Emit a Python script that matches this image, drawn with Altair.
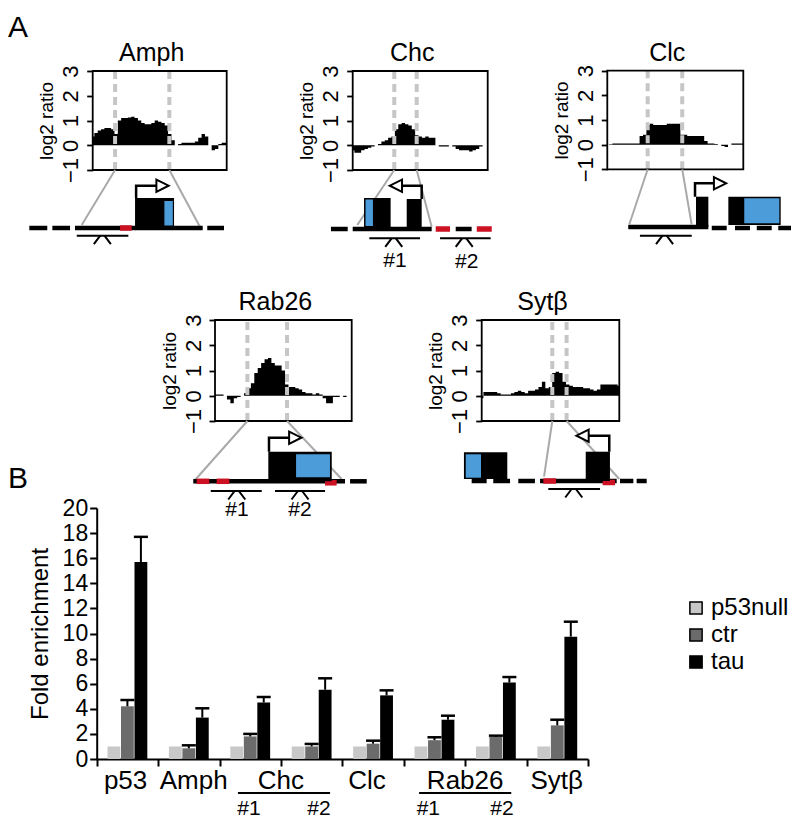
import altair as alt
import pandas as pd

FONT = "Liberation Sans"
M = 8  # page margin: plot coordinates = page pixels - M

# ---------------- Panel B : ChIP-qPCR fold enrichment ----------------
sites = ["p53", "Amph", "Chc #1", "Chc #2", "Clc", "Rab26 #1", "Rab26 #2", "Sytβ"]
conditions = ["p53null", "ctr", "tau"]
condition_colors = ["#c8c8c8", "#6b6b6b", "#000000"]
p53null_fold = [1.0, 1.0, 1.0, 1.0, 1.0, 1.0, 1.0, 1.0]
ctr_fold = [4.2, 0.85, 1.8, 1.0, 1.22, 1.5, 1.75, 2.68]
ctr_sem = [0.5, 0.24, 0.2, 0.2, 0.24, 0.23, 0.11, 0.45]
tau_fold = [15.7, 3.3, 4.5, 5.52, 5.07, 3.13, 6.1, 9.75]
tau_sem = [2.0, 0.74, 0.44, 0.91, 0.4, 0.32, 0.43, 1.19]

site_labels = ["p53", "Amph", "Chc", "Clc", "Rab26", "Sytβ"]
site_label_pos = [0.47, 1.58, 3.0, 4.4, 6.0, 7.49]
amplicon_labels = ["#1", "#2", "#1", "#2"]
amplicon_label_pos = [2.48, 3.62, 5.4, 6.6]
underline_start = [2.3, 5.25]
underline_end = [3.8, 6.75]

# ---------------- Panel A : ChIP-chip log2 ratio tracks ----------------
probe_frac = [0.0, 0.025, 0.05, 0.075, 0.1, 0.125, 0.15, 0.175, 0.2, 0.225, 0.25,
              0.275, 0.3, 0.325, 0.35, 0.375, 0.4, 0.425, 0.45, 0.475, 0.5, 0.525,
              0.55, 0.575, 0.6, 0.625, 0.65, 0.675, 0.7, 0.725, 0.75, 0.775, 0.8,
              0.825, 0.85, 0.875, 0.9, 0.925, 0.95, 0.975, 1.0]
amph_log2 = [0.35, 0.5, 0.6, 0.65, 0.7, 0.7, 0.65, 0.45, 1.0, 1.1, 1.1, 1.12, 1.15, 1.1,
             1.0, 0.9, 0.85, 0.85, 0.9, 1.0, 0.95, 0.9, 0.8, 0.45, 0.2, 0.0, 0.05, 0.1,
             0.1, 0.1, 0.1, 0.15, 0.3, 0.45, 0.35, 0.0, -0.2, -0.15, 0.05, 0.1, 0.1]
chc_log2 = [-0.2, -0.3, -0.3, -0.2, -0.15, -0.1, -0.05, 0.0, 0.05, 0.15, 0.2, 0.3, 0.35,
            0.65, 0.85, 0.9, 0.85, 0.8, 0.65, 0.4, 0.35, 0.3, 0.35, 0.3, 0.3, 0.0, -0.05,
            -0.05, -0.05, 0.0, -0.05, -0.15, -0.2, -0.2, -0.2, -0.25, -0.2, -0.15, -0.05,
            0.0, 0.0]
clc_log2 = [0.0, 0.02, 0.05, 0.05, 0.05, 0.05, 0.05, 0.05, 0.05, 0.05, 0.35, 0.4, 0.8,
            0.85, 0.8, 0.8, 0.8, 0.8, 0.85, 0.85, 0.85, 0.85, 0.4, 0.4, 0.35, 0.35, 0.35,
            0.35, 0.35, 0.15, 0.05, 0.05, 0.03, 0.0, -0.05, -0.1, 0.0, 0.05, 0.05, 0.05,
            0.05]
rab26_log2 = [0.05, 0.05, 0.05, 0.0, -0.15, -0.3, -0.1, -0.05, 0.0, 0.1, 0.3, 0.5, 0.9,
              1.1, 1.3, 1.45, 1.5, 1.3, 1.2, 1.2, 1.0, 0.45, 0.35, 0.35, 0.3, 0.25, 0.15,
              0.1, 0.1, 0.05, 0.1, 0.05, -0.1, -0.3, -0.3, -0.05, -0.05, 0.0, -0.05, 0.0,
              0.0]
sytb_log2 = [-0.1, 0.15, 0.15, 0.15, 0.15, 0.1, 0.05, 0.05, 0.05, 0.1, 0.15, 0.2, 0.15,
             0.1, 0.2, 0.2, 0.25, 0.35, 0.55, 0.3, 0.35, 0.9, 0.95, 0.9, 0.55, 0.45, 0.4,
             0.35, 0.35, 0.35, 0.3, 0.3, 0.25, 0.2, 0.25, 0.45, 0.45, 0.45, 0.45, 0.45,
             0.4]

# schematic gene models (x: fraction of the track window, y: schematic units)
GENES = [
    dict(name="Amph", log2=amph_log2, cuts=[0.167, 0.572],
         frame=(92.7, 226.7, 71, 170), base=228,
         dna=[(-0.473, -0.339, 0), (-0.301, -0.169, 0), (-0.132, 0.821, 0), (0.855, 0.98, 0)],
         red=[(0.204, 0.291, 0)],
         exons=[(0.316, 0.607, 0, 3.0)],
         cds=[(0.535, 0.598, 0.25, 2.7)],
         tss=[(0.324, 3.0), (0.324, 4.23), (0.478, 4.23)], head=(0.521, 4.23, "right"),
         primers=[(-0.119, 0.266, -0.77, 0.072)], labels=[],
         links=[(0.167, 5.8, -0.082, 0.3), (0.572, 5.8, 0.80, 0.13)]),
    dict(name="Chc", log2=chc_log2, cuts=[0.308, 0.474],
         frame=(352.7, 487.7, 71, 170), base=229,
         dna=[(-0.161, -0.037, 0), (0.0, 0.585, 0), (0.763, 0.881, 0)],
         red=[(0.615, 0.721, 0), (0.919, 1.03, 0)],
         exons=[(0.084, 0.281, 0, 3.1), (0.4, 0.511, 0, 3.0)],
         cds=[(0.095, 0.15, 0.3, 2.95)],
         tss=[(0.511, 3.0), (0.511, 4.33), (0.363, 4.33)], head=(0.32, 4.33, "left"),
         primers=[(0.123, 0.499, -0.93, 0.304), (0.647, 1.022, -0.93, 0.826)],
         labels=[("#1", 0.313, -3.2), ("#2", 0.844, -3.25)],
         links=[(0.308, 5.9, 0.034, 0.4), (0.474, 5.9, 0.585, 0.23)]),
    dict(name="Clc", log2=clc_log2, cuts=[0.297, 0.551],
         frame=(607.3, 743.3, 70.7, 169.3), base=227,
         dna=[(0.154, 0.743, 0), (0.768, 0.878, -0.1), (0.939, 1.049, -0.1),
              (1.099, 1.209, -0.1), (1.257, 1.38, -0.1)],
         red=[],
         exons=[(0.652, 0.743, 0, 3.03), (0.89, 1.275, 0.2, 3.03)],
         cds=[(1.007, 1.265, 0.37, 2.87)],
         tss=[(0.645, 3.03), (0.645, 4.37), (0.792, 4.37)], head=(0.829, 4.37, "right"),
         primers=[(0.24, 0.621, -0.87, 0.421)], labels=[],
         links=[(0.297, 5.77, 0.162, 0.27), (0.551, 5.77, 0.62, 0.27)]),
    dict(name="Rab26", log2=rab26_log2, cuts=[0.237, 0.527],
         frame=(215, 351.7, 320, 421), base=481.3,
         dna=[(-0.159, 0.951, 0), (0.988, 1.11, 0)],
         red=[(-0.134, -0.042, 0), (0.012, 0.105, 0), (0.805, 0.89, -0.15)],
         exons=[(0.39, 0.854, 0, 2.96)],
         cds=[(0.593, 0.841, 0.4, 2.7)],
         tss=[(0.395, 2.96), (0.395, 4.36), (0.549, 4.36)], head=(0.587, 4.36, "right"),
         primers=[(-0.031, 0.342, -0.97, 0.159), (0.439, 0.805, -0.97, 0.622)],
         labels=[("#1", 0.161, -2.87), ("#2", 0.622, -2.87)],
         links=[(0.237, 6.03, -0.146, 0.13), (0.527, 6.03, 0.926, 0.23)]),
    dict(name="Sytβ", log2=sytb_log2, cuts=[0.513, 0.617],
         frame=(481.7, 619.3, 320, 421), base=481,
         dna=[(-0.073, 0.036, 0), (0.084, 0.206, 0), (0.266, 0.387, 0), (0.424, 0.981, 0),
              (1.005, 1.102, 0), (1.126, 1.199, 0)],
         red=[(0.448, 0.54, 0), (0.879, 0.969, -0.15)],
         exons=[(-0.129, 0.186, 0.2, 2.87), (0.756, 0.932, 0, 2.93)],
         cds=[(-0.116, -0.005, 0.33, 2.67)],
         tss=[(0.927, 2.93), (0.927, 4.53), (0.775, 4.53)], head=(0.733, 4.53, "left"),
         primers=[(0.484, 0.86, -0.8, 0.669)], labels=[],
         links=[(0.513, 6.0, 0.453, 0.43), (0.617, 6.0, 1.0, 0.2)]),
]

HEAD_PATH = {"right": "M-1,-1L1,0L-1,1Z", "left": "M1,-1L-1,0L1,1Z"}
PRIMER_PATH = "M-1,1L-0.25,0M0.25,0L1,1"


def track_axis(L):
    return alt.Axis(orient="left", offset=-(L - M), values=[-1, 0, 1, 2, 3], domain=False,
                    grid=False, ticks=True, tickSize=6, tickWidth=1.8, tickColor="black",
                    labelAngle=270, labelAlign="center", labelBaseline="bottom",
                    labelPadding=4, labelFontSize=22, labelOverlap=False, labelFlush=False,
                    labelColor="black", title="log2 ratio", titleFontSize=19,
                    titleFontWeight="normal", titleColor="black", titlePadding=3)


def gene_panel(g):
    L, R, T, B = g["frame"]
    base = g["base"]
    xs = alt.Scale(domain=[0, 1], range=[L - M, R - M], nice=False, zero=False)
    ys = alt.Scale(domain=[-1, 3], range=[B - M, T - M], nice=False, zero=False)
    ds = alt.Scale(domain=[0, 10], range=[base - M, base - M - 100], nice=False, zero=False)
    yax = track_axis(L)

    track_df = pd.DataFrame({"pos": probe_frac, "log2": g["log2"]})
    area = alt.Chart(track_df).mark_area(color="black", interpolate="step").encode(
        x=alt.X("pos:Q", scale=xs, axis=None),
        y=alt.Y("log2:Q", scale=ys, axis=yax, title="log2 ratio"),
        y2=alt.datum(0),
    )
    cuts = alt.Chart(pd.DataFrame({"cut": g["cuts"], "lo": -1, "hi": 3})).mark_rule(
        color="#c6c6c6", strokeWidth=4, strokeDash=[8, 5]).encode(
        x=alt.X("cut:Q", scale=xs, axis=None),
        y=alt.Y("lo:Q", scale=ys, axis=yax, title="log2 ratio"), y2="hi:Q")
    frame = alt.Chart(pd.DataFrame({"x1": [0], "x2": [1], "y1": [-1], "y2": [3]})).mark_rect(
        fill="transparent", stroke="black", strokeWidth=1.8).encode(
        x=alt.X("x1:Q", scale=xs, axis=None), x2="x2:Q",
        y=alt.Y("y1:Q", scale=ys, axis=yax, title="log2 ratio"), y2="y2:Q")
    title = alt.Chart(pd.DataFrame({"name": [g["name"]], "x": [0.5], "y": [3]})).mark_text(
        fontSize=25, dx=-8, dy=-10, baseline="alphabetic", align="center").encode(
        x=alt.X("x:Q", scale=xs, axis=None),
        y=alt.Y("y:Q", scale=ys, axis=yax, title="log2 ratio"),
        text="name:N")
    track = alt.layer(area, cuts, frame, title)

    def X(f):
        return alt.X(f, type="quantitative", scale=xs, axis=None)

    def Y(f):
        return alt.Y(f, type="quantitative", scale=ds, axis=None)

    layers = []
    links_df = pd.DataFrame(g["links"], columns=["x1", "y1", "x2", "y2"])
    layers.append(alt.Chart(links_df).mark_rule(color="#a9a9a9", strokeWidth=2).encode(
        x=X("x1"), y=Y("y1"), x2="x2:Q", y2="y2:Q"))
    dna_df = pd.DataFrame(g["dna"], columns=["s", "e", "lvl"])
    layers.append(alt.Chart(dna_df).mark_rule(color="black", strokeWidth=4.5).encode(
        x=X("s"), x2="e:Q", y=Y("lvl")))
    if g["red"]:
        red_df = pd.DataFrame(g["red"], columns=["s", "e", "lvl"])
        layers.append(alt.Chart(red_df).mark_rule(color="#cc1122", strokeWidth=5.5).encode(
            x=X("s"), x2="e:Q", y=Y("lvl")))
    ex_df = pd.DataFrame(g["exons"], columns=["s", "e", "lo", "hi"])
    layers.append(alt.Chart(ex_df).mark_rect(color="black").encode(
        x=X("s"), x2="e:Q", y=Y("lo"), y2="hi:Q"))
    cds_df = pd.DataFrame(g["cds"], columns=["s", "e", "lo", "hi"])
    layers.append(alt.Chart(cds_df).mark_rect(color="#4c9cda").encode(
        x=X("s"), x2="e:Q", y=Y("lo"), y2="hi:Q"))
    tss_df = pd.DataFrame(g["tss"], columns=["x", "y"])
    tss_df["i"] = range(len(tss_df))
    layers.append(alt.Chart(tss_df).mark_line(color="black", strokeWidth=2.5,
                                              strokeJoin="miter").encode(
        x=X("x"), y=Y("y"), order="i:Q"))
    hx, hy, hdir = g["head"]
    layers.append(alt.Chart(pd.DataFrame({"x": [hx], "y": [hy]})).mark_point(
        shape=HEAD_PATH[hdir], size=150, filled=True, fill="white", stroke="black",
        strokeWidth=2, opacity=1).encode(x=X("x"), y=Y("y")))
    pr_df = pd.DataFrame(g["primers"], columns=["s", "e", "lvl", "c"])
    layers.append(alt.Chart(pr_df).mark_rule(color="black", strokeWidth=2).encode(
        x=X("s"), x2="e:Q", y=Y("lvl")))
    layers.append(alt.Chart(pr_df).mark_point(
        shape=PRIMER_PATH, size=289, filled=False, color="black", strokeWidth=2,
        opacity=1).encode(x=X("c"), y=Y("lvl")))
    if g["labels"]:
        lb_df = pd.DataFrame(g["labels"], columns=["t", "x", "y"])
        layers.append(alt.Chart(lb_df).mark_text(fontSize=21, baseline="middle",
                                                 align="center").encode(
            x=X("x"), y=Y("y"), text="t:N"))
    diagram = alt.layer(*layers)
    return alt.layer(track, diagram).resolve_scale(y="independent")


# ---------------- Panel B chart ----------------
rows = []
for i, s in enumerate(sites):
    rows.append(dict(site=s, cond="p53null", fold=p53null_fold[i], top=None))
    rows.append(dict(site=s, cond="ctr", fold=ctr_fold[i], top=ctr_fold[i] + ctr_sem[i]))
    rows.append(dict(site=s, cond="tau", fold=tau_fold[i], top=tau_fold[i] + tau_sem[i]))
bar_df = pd.DataFrame(rows)
err_df = bar_df.dropna(subset=["top"])

bx = alt.Scale(domain=sites, range=[88.7, 580], paddingInner=0, paddingOuter=0)
bo = alt.Scale(domain=conditions, paddingOuter=0.8, paddingInner=0.05)
by = alt.Scale(domain=[0, 20], range=[751, 500], nice=False, zero=False)

bars = alt.Chart(bar_df).mark_bar().encode(
    x=alt.X("site:N", sort=sites, scale=bx,
            axis=alt.Axis(orient="bottom", offset=-61, labels=False, tickBand="extent",
                          tickSize=7, tickWidth=2, tickColor="black", domainWidth=2,
                          domainColor="black", title=None, grid=False)),
    xOffset=alt.XOffset("cond:N", sort=conditions, scale=bo),
    y=alt.Y("fold:Q", scale=by,
            axis=alt.Axis(orient="left", offset=-88.7, values=list(range(0, 21, 2)),
                          tickSize=7, tickWidth=2, tickColor="black", domainWidth=2,
                          domainColor="black", labelFontSize=23, labelPadding=2,
                          labelOverlap=False, labelFlush=False, grid=False,
                          title="Fold enrichment", titleFontSize=24,
                          titleFontWeight="normal", titlePadding=10)),
    color=alt.Color("cond:N", sort=conditions,
                    scale=alt.Scale(domain=conditions, range=condition_colors),
                    legend=alt.Legend(orient="none", legendX=676, legendY=588, title=None,
                                      symbolType="square", symbolSize=150,
                                      symbolStrokeColor="black", symbolStrokeWidth=1.5,
                                      labelFontSize=24, labelOffset=3, rowPadding=3,
                                      padding=0, labelColor="black")),
)
errs = alt.Chart(err_df).mark_rule(color="black", strokeWidth=2).encode(
    x=alt.X("site:N", sort=sites, scale=bx),
    xOffset=alt.XOffset("cond:N", sort=conditions, scale=bo),
    y=alt.Y("fold:Q", scale=by), y2="top:Q")
caps = alt.Chart(err_df).mark_tick(color="black", thickness=2.5, size=14, opacity=1).encode(
    x=alt.X("site:N", sort=sites, scale=bx),
    xOffset=alt.XOffset("cond:N", sort=conditions, scale=bo),
    y=alt.Y("top:Q", scale=by))
bar_group = alt.layer(bars, errs, caps)

lx = alt.Scale(domain=[0, 8], range=[88.7, 580], nice=False, zero=False)
main_lab = alt.Chart(pd.DataFrame({"t": site_labels, "p": site_label_pos})).mark_text(
    fontSize=26, baseline="alphabetic", align="center").encode(
    x=alt.X("p:Q", scale=lx, axis=None), y=alt.value(781), text="t:N")
sub_lab = alt.Chart(pd.DataFrame({"t": amplicon_labels, "p": amplicon_label_pos})).mark_text(
    fontSize=21, baseline="alphabetic", align="center").encode(
    x=alt.X("p:Q", scale=lx, axis=None), y=alt.value(807), text="t:N")
ulines = alt.Chart(pd.DataFrame({"s": underline_start, "e": underline_end})).mark_rule(
    color="black", strokeWidth=2).encode(
    x=alt.X("s:Q", scale=lx, axis=None), x2="e:Q", y=alt.value(785))
label_group = alt.layer(main_lab, sub_lab, ulines)

letter_a = alt.Chart(pd.DataFrame({"t": ["A"]})).mark_text(
    fontSize=30, align="left", baseline="alphabetic").encode(
    x=alt.value(0), y=alt.value(29), text="t:N")
letter_b = alt.Chart(pd.DataFrame({"t": ["B"]})).mark_text(
    fontSize=30, align="left", baseline="alphabetic").encode(
    x=alt.value(0), y=alt.value(480), text="t:N")

chart = alt.layer(
    bar_group, label_group, *[gene_panel(g) for g in GENES], letter_a, letter_b
).resolve_scale(
    x="independent", y="independent", color="independent"
).properties(
    width=783, height=812, autosize=alt.AutoSizeParams(type="none"), padding=0
).configure(font=FONT).configure_view(strokeWidth=0).configure_axis(
    labelFont=FONT, titleFont=FONT, labelColor="black", titleColor="black"
).configure_text(font=FONT, color="black").configure_legend(labelFont=FONT)

chart.save("out.html", embed_options={"renderer": "svg", "actions": False})
